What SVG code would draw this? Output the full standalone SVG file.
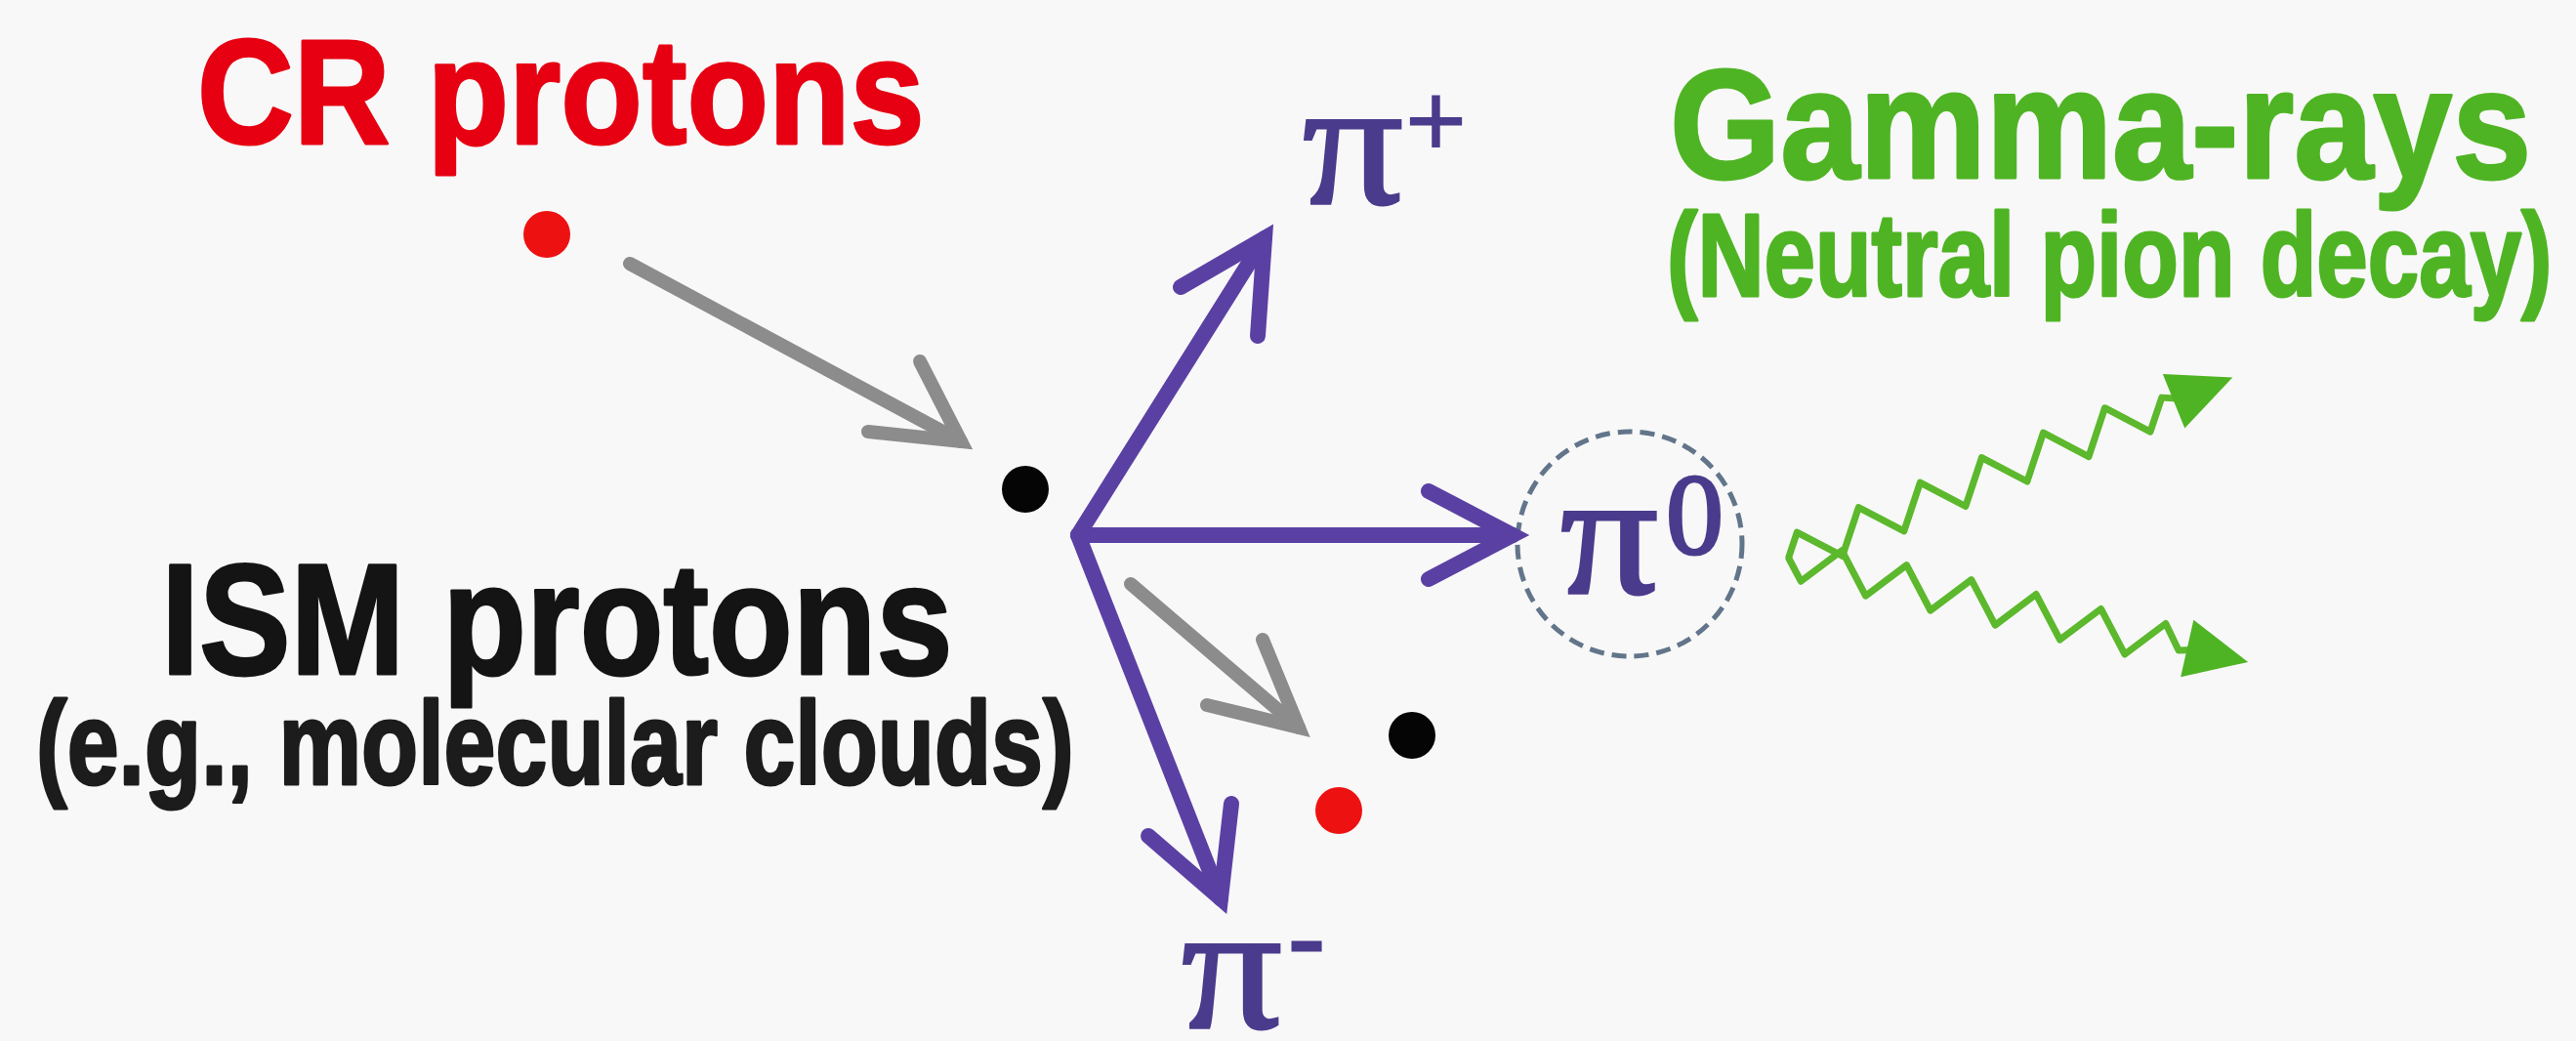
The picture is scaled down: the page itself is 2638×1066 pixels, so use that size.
<svg xmlns="http://www.w3.org/2000/svg" width="2638" height="1066" viewBox="0 0 2638 1066">
<style>
.lbl{font-family:"Liberation Sans",Arial,sans-serif;font-weight:bold;stroke-width:3;stroke-linejoin:round}
.pi{font-family:"Liberation Serif","Times New Roman",serif;fill:#4b3b8c;stroke:#4b3b8c;stroke-width:3}
.gray{fill:none;stroke:#8c8c8c;stroke-width:14;stroke-linecap:round;stroke-linejoin:miter}
.pur{fill:none;stroke:#5b40a4;stroke-width:16;stroke-linecap:round;stroke-linejoin:miter}
.wave{fill:none;stroke:#5cb82c;stroke-width:7;stroke-linejoin:round;stroke-linecap:round}
.head{fill:#4fb424}
</style>
<rect width="2638" height="1066" fill="#f8f8f8"/>

<g id="cr-proton">
<text class="lbl" transform="translate(202,147) scale(0.9,1)" font-size="152" fill="#e60012" stroke="#e60012">CR protons</text>
<circle cx="560" cy="240" r="24" fill="#ee1111"/>
</g>

<g id="ism-proton">
<text class="lbl" transform="translate(165,690) scale(0.866,1)" font-size="162" fill="#141414" stroke="#141414">ISM protons</text>
<text class="lbl" transform="translate(37,803) scale(0.793,1)" font-size="120" fill="#1c1c1c" stroke="#1c1c1c">(e.g., molecular clouds)</text>
<circle cx="1050" cy="501" r="24" fill="#050505"/>
</g>

<g id="pi-plus">
<text class="pi" transform="translate(1334,208) scale(1.1,1)" font-size="185">π</text>
<text class="pi" x="1440" y="160" font-size="108">+</text>
</g>

<g id="pi-minus">
<text class="pi" transform="translate(1210,1052) scale(1.1,1)" font-size="185">π</text>
<text class="pi" x="1320" y="994" font-size="108">-</text>
</g>

<g id="pi-zero">
<circle cx="1669" cy="557" r="115" fill="none" stroke="#62758a" stroke-width="5" stroke-dasharray="15 8"/>
<text class="pi" transform="translate(1598,607) scale(1.1,1)" font-size="180">π</text>
<text class="pi" x="1706" y="567" font-size="118">0</text>
</g>

<g id="products">
<circle cx="1446" cy="753" r="24" fill="#050505"/>
<circle cx="1371" cy="830" r="24" fill="#ee1111"/>
</g>

<g id="gamma-rays">
<text class="lbl" transform="translate(1710,182) scale(0.91,1)" font-size="160" fill="#4fb424" stroke="#4fb424">Gamma-rays</text>
<text class="lbl" transform="translate(1707,303) scale(0.786,1)" font-size="120" fill="#4fb424" stroke="#4fb424">(Neutral pion decay)</text>
</g>

<g id="connectors">
<line class="gray" x1="645" y1="270" x2="984" y2="452"/>
<polyline class="gray" points="942,370 984,452 889,442"/>
<line class="gray" x1="1158" y1="598" x2="1330" y2="745"/>
<polyline class="gray" points="1293,655 1330,745 1236,722"/>

<line class="pur" x1="1104" y1="548" x2="1295" y2="244"/>
<polyline class="pur" points="1209,294 1295,244 1288,344"/>
<line class="pur" x1="1104" y1="548" x2="1549" y2="548"/>
<polyline class="pur" points="1463,503 1549,548 1463,593"/>
<line class="pur" x1="1104" y1="548" x2="1250" y2="920"/>
<polyline class="pur" points="1176,856 1250,920 1261,823"/>

<g transform="translate(1832,570) rotate(-22)">
<polyline class="wave" points="0,0 17,-20 51,20 85,-20 119,20 153,-20 187,20 221,-20 255,20 289,-20 323,20 357,-20 391,20 415,-8 432,0"/>
<polygon class="head" points="425,-30 490,0 425,30"/>
</g>
<g transform="translate(1832,572) rotate(12.7)">
<polyline class="wave" points="0,0 17,20 51,-20 85,20 119,-20 153,20 187,-20 221,20 255,-20 289,20 323,-20 357,20 391,-20 410,4 425,0"/>
<polygon class="head" points="418,-30 482,0 418,30"/>
</g>
</g>
</svg>
